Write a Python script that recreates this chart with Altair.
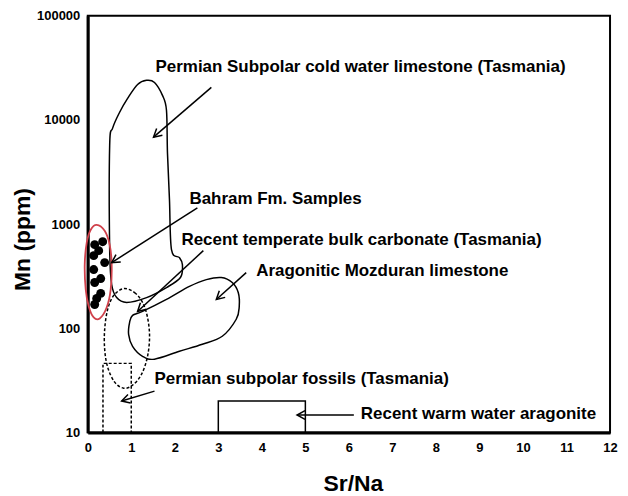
import altair as alt
import pandas as pd

FONT = "Liberation Sans"

# ---- data (Sr/Na, Mn ppm) ----
perm_x = [1.145, 1.351, 1.534, 1.717, 1.809, 1.832, 1.878, 1.924, 2.107, 2.175, 2.130,
          1.809, 1.351, 0.893, 0.664, 0.550, 0.504, 0.504, 0.572, 0.733, 0.916]
perm_y = [21900, 24000, 22900, 17200, 12400, 4800, 1700, 568, 476, 408, 307,
          246, 197, 177, 197, 263, 568, 5730, 8340, 11860, 16100]

arag_x = [0.962, 1.030, 1.259, 1.809, 2.336, 2.725, 3.068, 3.320, 3.458, 3.481, 3.412,
          3.091, 2.633, 2.107, 1.534, 1.259, 1.030, 0.939]
arag_y = [114, 133, 145, 189, 252, 293, 307, 275, 220, 162, 122,
          83.8, 70.2, 60.1, 50.5, 53.8, 67.1, 87.5]

temp_x = [0.824, 1.076, 1.259, 1.374, 1.420, 1.374, 1.237, 1.030, 0.824, 0.618,
          0.458, 0.389, 0.389, 0.458, 0.595]
temp_y = [240, 220, 177, 127, 83.8, 53.8, 36.2, 28.4, 26.6, 30.4,
          42.3, 62.8, 97.5, 152, 206]

red_x = [0.206, 0.389, 0.504, 0.550, 0.527, 0.435, 0.275, 0.137, 0.023, -0.046,
         -0.069, -0.023, 0.069]
red_y = [984, 863, 634, 408, 235, 158, 124, 127, 162, 235, 408, 663, 883]

fossil_x = [0.35, 0.35, 1.0, 1.0]
fossil_y = [10, 46, 46, 10]

warm_x = [3, 3, 5, 5]
warm_y = [10, 20, 20, 10]

sample_x = [0.343, 0.160, 0.252, 0.137, 0.389, 0.137, 0.298, 0.160, 0.298, 0.206, 0.160]
sample_y = [678, 635, 556, 498, 427, 366, 300, 275, 216, 193, 169]

labels = ["Permian Subpolar cold water limestone (Tasmania)",
          "Bahram Fm. Samples",
          "Recent temperate bulk carbonate (Tasmania)",
          "Aragonitic Mozduran limestone",
          "Permian subpolar fossils (Tasmania)",
          "Recent warm water aragonite"]
label_x = [1.557, 2.336, 2.153, 3.870, 1.534, 6.274]
label_y = [31900, 1746, 708, 358, 32.4, 15.0]

arrow_x1 = [2.840, 2.519, 2.656, 3.641, 1.534, 6.114]
arrow_y1 = [20560, 1432, 556, 342, 24.9, 14.7]
arrow_x2 = [1.511, 0.550, 1.145, 2.954, 0.779, 4.809]
arrow_y2 = [6840, 427, 145, 189, 20.0, 14.7]
arrow_angle = [139, 147, 137, 138, 163, 180]

x_ticks = list(range(0, 13))
y_ticks = [10, 100, 1000, 10000, 100000]

# ---- scales ----
xs = alt.Scale(domain=[0, 12], nice=False, zero=False)
ys = alt.Scale(type="log", domain=[10, 100000], nice=False)

def shape_df(xv, yv):
    return pd.DataFrame({"x": xv, "y": yv, "i": list(range(len(xv)))})

def outline(xv, yv, interp, dash=None, color="black", width=1.5):
    kw = dict(interpolate=interp, color=color, strokeWidth=width, clip=False)
    if dash:
        kw["strokeDash"] = dash
    return alt.Chart(shape_df(xv, yv)).mark_line(**kw).encode(
        x=alt.X("x:Q", scale=xs), y=alt.Y("y:Q", scale=ys), order="i:Q")

base_x = alt.X("x:Q", scale=xs, title="Sr/Na",
               axis=alt.Axis(values=x_ticks, format="d", ticks=False, grid=False,
                             labelFlush=False, labelPadding=9, domainWidth=3,
                             domainColor="black", titleX=266, titleY=58,
                             titleAlign="center", titleBaseline="alphabetic"))
base_y = alt.Y("y:Q", scale=ys, title="Mn (ppm)",
               axis=alt.Axis(values=y_ticks, format="d", ticks=False, grid=False,
                             labelFlush=False, labelPadding=8, domainWidth=3,
                             domainColor="black", titleX=-65, titleY=224,
                             titleAngle=270, titleAlign="center",
                             titleBaseline="middle"))

pts = alt.Chart(pd.DataFrame({"x": sample_x, "y": sample_y})).mark_circle(
    size=80, color="black", opacity=1).encode(x=base_x, y=base_y)

perm = outline(perm_x, perm_y, "cardinal-closed")
arag = outline(arag_x, arag_y, "cardinal-closed")
temp = outline(temp_x, temp_y, "cardinal-closed", dash=[3, 2])
red = outline(red_x, red_y, "cardinal-closed", color="#d0414b", width=1.8)
fossil = outline(fossil_x, fossil_y, "linear", dash=[3, 2])
warm = outline(warm_x, warm_y, "linear")

arrows_df = pd.DataFrame({"x1": arrow_x1, "y1": arrow_y1, "x2": arrow_x2,
                          "y2": arrow_y2, "ang": arrow_angle})
arrow_lines = alt.Chart(arrows_df).mark_rule(color="black", strokeWidth=1.5).encode(
    x=alt.X("x1:Q", scale=xs), y=alt.Y("y1:Q", scale=ys),
    x2="x2:Q", y2="y2:Q")
arrow_heads = alt.Chart(arrows_df).mark_point(
    shape="M-1,-0.55L0,0L-1,0.55", size=256, filled=False, color="black",
    strokeWidth=1.5, opacity=1).encode(
    x=alt.X("x2:Q", scale=xs), y=alt.Y("y2:Q", scale=ys),
    angle=alt.Angle("ang:Q", scale=None))

texts = alt.Chart(pd.DataFrame({"x": label_x, "y": label_y, "t": labels})).mark_text(
    align="left", baseline="middle", font=FONT, fontSize=17, fontWeight="bold",
    color="black").encode(x=alt.X("x:Q", scale=xs), y=alt.Y("y:Q", scale=ys), text="t:N")

chart = alt.layer(pts, perm, arag, temp, fossil, warm, red, arrow_lines, arrow_heads,
                  texts).properties(
    width=524, height=418,
    autosize=alt.AutoSizeParams(type="none"),
    padding={"left": 80, "top": 7, "right": 10, "bottom": 62},
    background="white",
).configure_view(stroke="black", strokeWidth=2).configure_axis(
    labelFont=FONT, labelFontSize=13, labelFontWeight="bold", labelColor="black",
    titleFont=FONT, titleFontSize=23, titleFontWeight="bold", titleColor="black")

chart.save("out.html", embed_options={"renderer": "svg", "actions": False})
